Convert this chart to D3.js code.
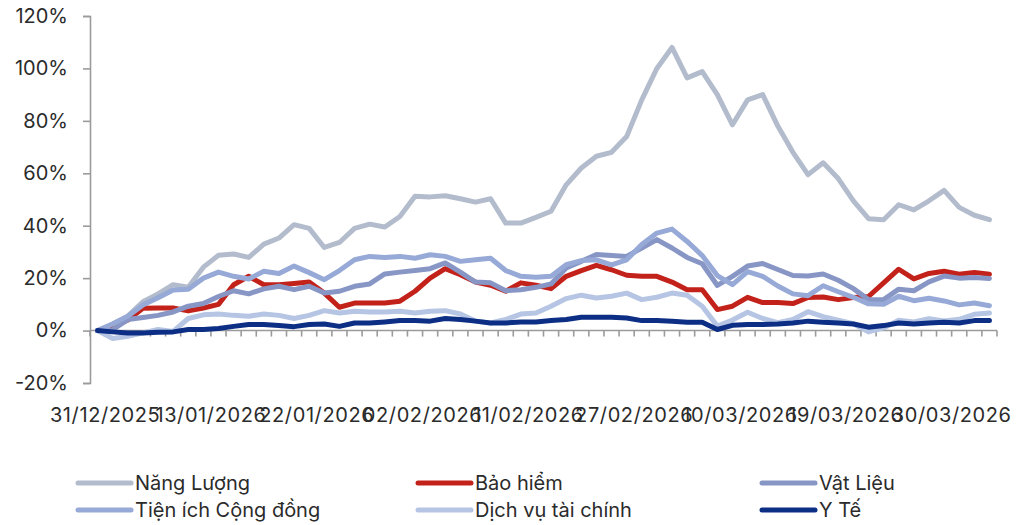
<!DOCTYPE html>
<html>
<head>
<meta charset="utf-8">
<script src="https://cdn.jsdelivr.net/npm/d3@7"></script>
<style>
  html, body { margin: 0; padding: 0; background: #fff; }
  svg { display: block; }
  text { font-family: Inter, "Noto Sans", sans-serif; fill: #2b2b2b; }
</style>
</head>
<body>
<svg id="chart" width="1019" height="525"></svg>
<script>
// Trading sessions
const dates = [
  "31/12/2025","05/01/2026","06/01/2026","07/01/2026","08/01/2026","09/01/2026","12/01/2026",
  "13/01/2026","14/01/2026","15/01/2026","16/01/2026","19/01/2026","20/01/2026","21/01/2026",
  "22/01/2026","23/01/2026","26/01/2026","27/01/2026","28/01/2026","29/01/2026","30/01/2026",
  "02/02/2026","03/02/2026","04/02/2026","05/02/2026","06/02/2026","09/02/2026","10/02/2026",
  "11/02/2026","12/02/2026","13/02/2026","23/02/2026","24/02/2026","25/02/2026","26/02/2026",
  "27/02/2026","02/03/2026","03/03/2026","04/03/2026","05/03/2026","06/03/2026","09/03/2026",
  "10/03/2026","11/03/2026","12/03/2026","13/03/2026","16/03/2026","17/03/2026","18/03/2026",
  "19/03/2026","20/03/2026","23/03/2026","24/03/2026","25/03/2026","26/03/2026","27/03/2026",
  "30/03/2026","31/03/2026","01/04/2026","02/04/2026"
];

// Cumulative return since 31/12/2025, in percent
const nangLuong = [
  0, 2.5, 5.5, 11, 14, 17.5, 16.5, 24.2, 28.7, 29.2,
  27.9, 33, 35.3, 40.4, 39, 31.7, 33.6, 39, 40.6, 39.5,
  43.5, 51.2, 51, 51.4, 50.3, 49, 50.3, 41, 41, 43.2,
  45.5, 55.6, 62, 66.5, 68, 74, 88, 100, 108, 96.4,
  98.8, 90, 78.5, 88, 90, 78, 68, 59.5, 64, 58,
  49.5, 42.7, 42.3, 48, 46, 49.5, 53.5, 47, 44, 42.3
];
const baoHiem = [
  0, 1.4, 4, 8.5, 8.6, 8.6, 7.5, 8.6, 10, 17.5,
  20.7, 17.5, 17.5, 18, 18.5, 14.3, 8.9, 10.5, 10.5, 10.5,
  11.2, 15, 20, 23.6, 21.3, 18.5, 17.3, 15, 18.2, 17.3,
  16, 20.7, 22.9, 24.9, 23.2, 21.1, 20.7, 20.7, 18.5, 15.6,
  15.6, 8, 9.3, 12.7, 10.7, 10.7, 10.3, 12.6, 12.8, 11.8,
  12.6, 13, 18.2, 23.4, 19.7, 21.8, 22.6, 21.5, 22.2, 21.5
];
const vatLieu = [
  0, 0.3, 4.2, 5, 5.8, 7.1, 9.3, 10.3, 13, 15.2,
  14, 15.9, 16.9, 15.6, 16.9, 14.3, 15, 16.9, 17.8, 21.6,
  22.3, 22.9, 23.6, 25.8, 22.3, 18.5, 18.2, 15.2, 15.6, 16.5,
  17.8, 23.9, 26.4, 29, 28.6, 28.3, 31.5, 34.7, 31.5, 27.9,
  25.5, 17.2, 20.7, 24.6, 25.6, 23.3, 21, 20.8, 21.6, 19.2,
  16, 11.8, 11.8, 15.8, 15.2, 18.6, 20.8, 20, 20.2, 19.9
];
const tienIch = [
  0, 2.5, 5.5, 9.8, 12.5, 15.5, 15.8, 20, 22.3, 20.7,
  19.7, 22.6, 21.8, 24.6, 22.1, 19.4, 22.9, 27, 28.3, 27.9,
  28.3, 27.6, 28.9, 28.3, 26.4, 27, 27.6, 22.9, 20.7, 20.3,
  20.7, 25.1, 26.7, 27, 25.1, 27, 32.8, 37.2, 38.7, 34,
  28.6, 21, 17.5, 22.5, 20.7, 17, 14, 13.3, 17.1, 14.8,
  12.7, 10.2, 10, 13.1, 11.4, 12.3, 11.3, 9.8, 10.5, 9.5
];
const dichVuTaiChinh = [
  0, -3, -2.2, -0.9, 0.4, -0.3, 4.6, 6, 6.3, 5.8,
  5.5, 6.3, 5.8, 4.6, 5.8, 7.6, 6.7, 7.4, 7.1, 7.1,
  7.4, 6.7, 7.4, 7.6, 6.3, 3.6, 2.9, 4.2, 6.3, 6.7,
  9.3, 12.2, 13.5, 12.4, 13.1, 14.3, 11.8, 12.7, 14.3, 13.5,
  9.3, 1.7, 4, 7, 4.6, 3, 4.2, 7.2, 5.3, 4,
  2.6, -0.5, 1, 3.9, 3.3, 4.5, 3.7, 4.3, 6.2, 6.7
];
const yTe = [
  0, -0.5, -0.9, -0.9, -0.6, -0.5, 0.4, 0.4, 0.8, 1.6,
  2.3, 2.3, 1.9, 1.5, 2.3, 2.5, 1.6, 2.9, 2.9, 3.3,
  3.8, 3.8, 3.6, 4.6, 4.2, 3.6, 2.9, 2.9, 3.3, 3.3,
  3.8, 4.2, 5.1, 5.1, 5.1, 4.8, 3.8, 3.8, 3.6, 3.2,
  3.2, 0.4, 2, 2.3, 2.3, 2.5, 2.9, 3.6, 3.2, 2.9,
  2.5, 1.3, 1.9, 2.9, 2.5, 2.9, 3.2, 2.9, 3.8, 3.8
];

const seriesNames = ["Năng Lượng", "Bảo hiểm", "Vật Liệu", "Tiện ích Cộng đồng", "Dịch vụ tài chính", "Y Tế"];
const seriesValues = [nangLuong, baoHiem, vatLieu, tienIch, dichVuTaiChinh, yTe];
const seriesColors = ["#b3bccc", "#c3221b", "#8796c5", "#97a9d6", "#b5c5e3", "#0c2e84"];
const yTicks = [-20, 0, 20, 40, 60, 80, 100, 120];
const labelEvery = 7;

const svg = d3.select("#chart");
const plot = { left: 90, right: 997, top: 16, bottom: 383 };

const x = d3.scaleBand().domain(dates).range([plot.left, plot.right]).padding(0);
const y = d3.scaleLinear().domain([-20, 120]).range([plot.bottom, plot.top]);
const cx = d => x(d) + x.bandwidth() / 2;

const axisColor = "#9b9b9b";

// Y axis
const yAxis = svg.append("g")
  .attr("transform", `translate(${plot.left},0)`)
  .call(d3.axisLeft(y).tickValues(yTicks).tickSize(7).tickPadding(15)
    .tickFormat(d => d + "%"));
yAxis.select(".domain").attr("stroke", axisColor).attr("stroke-width", 1.6);
yAxis.selectAll(".tick line").attr("stroke", axisColor).attr("stroke-width", 1.6);
yAxis.selectAll(".tick text").style("font-size", "20px").attr("fill", "#2b2b2b");

// Category axis on the zero line, ticks between sessions
const zeroY = y(0);
const xLine = svg.append("g").attr("transform", `translate(0,${zeroY})`);
xLine.append("line")
  .attr("x1", plot.left).attr("x2", plot.right)
  .attr("stroke", axisColor).attr("stroke-width", 1.6);
xLine.selectAll("line.tk")
  .data(dates.concat([null]))
  .join("line")
  .attr("class", "tk")
  .attr("x1", d => d === null ? plot.right : x(d))
  .attr("x2", d => d === null ? plot.right : x(d))
  .attr("y1", 0).attr("y2", 6)
  .attr("stroke", axisColor).attr("stroke-width", 1.6);

// Date labels below the plot
const xAxis = svg.append("g")
  .attr("transform", `translate(${x.bandwidth() / 2},${plot.bottom})`)
  .call(d3.axisBottom(x).tickValues(dates.filter((d, i) => i % labelEvery === 0))
    .tickSize(0).tickPadding(25));
xAxis.select(".domain").remove();
xAxis.selectAll(".tick text")
  .style("font-size", "20px")
  .style("letter-spacing", "0.6px")
  .attr("fill", "#2b2b2b");

// Series lines
const line = d3.line()
  .x((v, i) => cx(dates[i]))
  .y(v => y(v));

svg.append("g").selectAll("path")
  .data(seriesValues)
  .join("path")
  .attr("d", d => line(d))
  .attr("fill", "none")
  .attr("stroke", (d, i) => seriesColors[i])
  .attr("stroke-width", 5)
  .attr("stroke-linejoin", "round")
  .attr("stroke-linecap", "round");

// Legend: three columns, two rows
const legendCols = [78, 418, 762];
const legendRows = [483, 510];
const legend = svg.append("g");
seriesNames.forEach((name, i) => {
  const lx = legendCols[i % 3];
  const ly = legendRows[Math.floor(i / 3)];
  legend.append("line")
    .attr("x1", lx).attr("x2", lx + 53)
    .attr("y1", ly).attr("y2", ly)
    .attr("stroke", seriesColors[i]).attr("stroke-width", 5)
    .attr("stroke-linecap", "round");
  legend.append("text")
    .attr("x", lx + 57).attr("y", ly)
    .attr("dy", "0.35em")
    .style("font-size", "20px")
    .text(name);
});
</script>
</body>
</html>
